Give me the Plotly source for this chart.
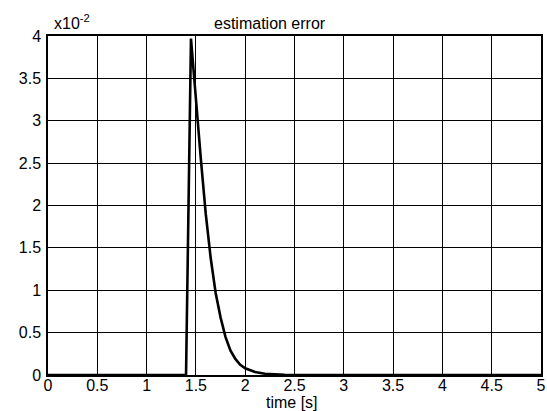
import plotly.graph_objects as go

# time [s]
time_s = [0.0, 1.40, 1.45, 1.50, 1.55, 1.60, 1.65, 1.70, 1.75, 1.80, 1.85, 1.90,
          1.95, 2.00, 2.10, 2.20, 2.30, 2.40, 2.50, 5.00]
# estimation error (actual values, axis shown in units of 1e-2)
error_val = [0.0, 0.0, 0.0397, 0.0321, 0.0255, 0.0190, 0.0138, 0.0097, 0.0068,
             0.0045, 0.0029, 0.0019, 0.0012, 0.0008, 0.00035, 0.00015, 0.00006,
             0.00002, 0.0, 0.0]

x_ticks = [0, 0.5, 1, 1.5, 2, 2.5, 3, 3.5, 4, 4.5, 5]
x_ticktext = ["0", "0.5", "1", "1.5", "2", "2.5", "3", "3.5", "4", "4.5", "5"]
y_ticks = [0, 0.005, 0.01, 0.015, 0.02, 0.025, 0.03, 0.035, 0.04]
y_ticktext = ["0", "0.5", "1", "1.5", "2", "2.5", "3", "3.5", "4"]

FONT = "Liberation Sans, Arial, sans-serif"

fig = go.Figure()
fig.add_trace(go.Scatter(x=time_s, y=error_val, mode="lines",
                         line=dict(color="black", width=2.6),
                         showlegend=False, hoverinfo="skip"))

axis_common = dict(showgrid=True, gridcolor="#000000", gridwidth=1,
                   showline=True, linecolor="black", linewidth=1.5, mirror=True,
                   ticks="", zeroline=False, automargin=False,
                   tickfont=dict(family=FONT, size=16, color="black"))

fig.update_xaxes(range=[0, 5], tickmode="array", tickvals=x_ticks,
                 ticktext=x_ticktext, ticklabelstandoff=-5, **axis_common)
fig.update_yaxes(range=[0, 0.04], tickmode="array", tickvals=y_ticks,
                 ticktext=y_ticktext, ticklabelstandoff=2, **axis_common)

fig.update_layout(
    width=547, height=411,
    margin=dict(l=48, r=6, t=36, b=36, autoexpand=False),
    paper_bgcolor="white", plot_bgcolor="white",
    font=dict(family=FONT, size=16, color="black"),
    annotations=[
        dict(text="estimation error", xref="paper", yref="paper",
             x=(270 - 48) / 493, y=1, xanchor="center", yanchor="bottom",
             yshift=2, showarrow=False, font=dict(family=FONT, size=16)),
        dict(text="x10<sup>-2</sup>", xref="paper", yref="paper",
             x=(52 - 48) / 493, y=1, xanchor="left", yanchor="bottom",
             yshift=2, showarrow=False, font=dict(family=FONT, size=16)),
        dict(text="time [s]", xref="paper", yref="paper",
             x=(292 - 48) / 493, y=0, xanchor="center", yanchor="top",
             yshift=-17, showarrow=False, font=dict(family=FONT, size=16)),
    ],
)

fig.write_html("out.html", config={"displayModeBar": False},
               post_script="document.body.style.margin='0';document.body.style.overflow='hidden';")
